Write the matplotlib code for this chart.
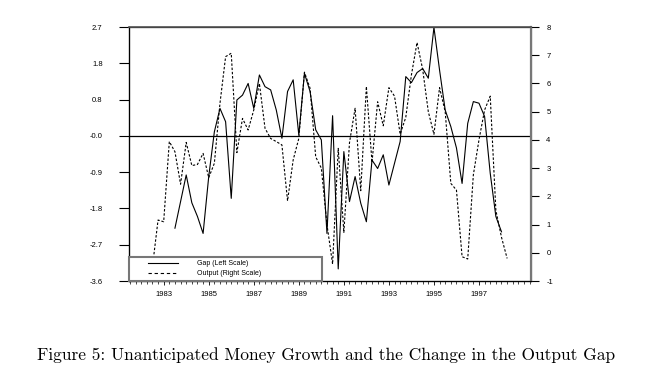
import numpy as np
import matplotlib
matplotlib.use("Agg")
import matplotlib.pyplot as plt
from matplotlib.ticker import MultipleLocator
from matplotlib.legend_handler import HandlerLine2D

# quarterly series
gap_start = 1983.5      # first quarter shown for the gap series
gap = [-2.29, -1.63, -0.97, -1.66, -2.0, -2.42, -1.01, 0.1, 0.68, 0.35,
       -1.55, 0.89, 1.01, 1.3, 0.68, 1.51, 1.22, 1.14, 0.64, -0.06,
       1.1, 1.39, 0.02, 1.55, 1.1, 0.15, -0.1, -2.42, 0.5, -3.3,
       -0.39, -1.63, -1.01, -1.67, -2.13, -0.6, -0.81, -0.47, -1.22, -0.68,
       -0.14, 1.47, 1.32, 1.57, 1.67, 1.43, 2.69, 1.63, 0.64, 0.23,
       -0.3, -1.18, 0.31, 0.85, 0.81, 0.48, -0.93, -2.0, -2.38]

output_start = 1982.5   # first quarter shown for the output series
output = [-0.5, 1.16, 1.1, 3.94, 3.58, 2.43, 3.91, 3.09, 3.13, 3.52,
          2.66, 3.17, 5.3, 6.95, 7.07, 3.55, 4.76, 4.35, 5.06, 6.0,
          4.41, 4.05, 3.94, 3.82, 1.84, 3.29, 4.05, 6.4, 5.83, 3.4,
          3.0, 1.0, -0.4, 3.7, 0.72, 3.9, 5.12, 2.2, 5.89, 3.2,
          5.35, 4.5, 5.85, 5.55, 4.2, 4.8, 6.3, 7.45, 6.5, 5.0,
          4.2, 5.85, 5.0, 2.46, 2.22, -0.14, -0.22, 2.76, 4.0, 5.06,
          5.55, 1.5, 0.55, -0.2]

year_ticks = [1983, 1985, 1987, 1989, 1991, 1993, 1995, 1997]
left_ticks = [2.7, 1.8, 0.9, 0.0, -0.9, -1.8, -2.7, -3.6]
left_labels = ['2.7', '1.8', '0.8', '-0.0', '-0.9', '-1.8', '-2.7', '-3.6']
right_ticks = [8, 7, 6, 5, 4, 3, 2, 1, 0, -1]

caption = "Figure 5: Unanticipated Money Growth and the Change in the Output Gap"

gap_dates = gap_start + np.arange(len(gap)) / 4.0
output_dates = output_start + np.arange(len(output)) / 4.0

plt.rcParams['font.family'] = ['Liberation Sans', 'DejaVu Sans']

fig = plt.figure(figsize=(6.51, 3.76), dpi=100)
ax = fig.add_axes([129 / 651, 1 - 281 / 376, 402 / 651, 254 / 376])
ax2 = ax.twinx()

line_gap, = ax.plot(gap_dates, gap, color='black', lw=0.8, label='Gap (Left Scale)')
ax.axhline(0, color='black', lw=0.9)
line_out, = ax2.plot(output_dates, output, color='black', lw=0.8,
                     linestyle=(0, (2.2, 1.6)), label='Output (Right Scale)')

ax.set_xlim(1981.46, 1999.31)
ax.set_ylim(-3.6, 2.7)
ax2.set_ylim(-1, 8)

ax.set_xticks(year_ticks, labels=[str(y) for y in year_ticks])
ax.xaxis.set_minor_locator(MultipleLocator(0.25))
ax.set_yticks(left_ticks, labels=left_labels)
ax2.set_yticks(right_ticks, labels=[str(v) for v in right_ticks])

ax.tick_params(axis='x', which='major', length=3, width=0.6, pad=4,
               labelsize=5.5, colors='black')
ax.tick_params(axis='x', which='minor', length=2, width=0.5)
ax.tick_params(axis='y', length=7, width=0.8, pad=12, labelsize=5.5,
               colors='black')
ax2.tick_params(axis='y', length=6, width=0.8, pad=5, labelsize=5.5,
                colors='black')

for sp in ['top', 'left', 'bottom']:
    ax.spines[sp].set_linewidth(0.9)
ax2.spines['right'].set_color('#777777')
ax2.spines['right'].set_linewidth(1.6)
ax2.spines['top'].set_linewidth(1.2)
ax2.spines['top'].set_color('#555555')

hmap = {line_gap: HandlerLine2D(xpad=2.2), line_out: HandlerLine2D(xpad=2.2)}
leg = ax2.legend(handles=[line_gap, line_out], handler_map=hmap,
                 loc='lower left', bbox_to_anchor=(0, 0, 0.48, 0.094),
                 mode='expand', borderaxespad=0, fontsize=5,
                 handlelength=6.5, handletextpad=2.7, labelspacing=0.4,
                 borderpad=0.55, fancybox=False, framealpha=1)
leg.get_frame().set_edgecolor('#777777')
leg.get_frame().set_linewidth(1.5)
leg.set_zorder(10)
for h in leg.get_lines():
    h.set_linewidth(0.8)
leg.get_lines()[1].set_linestyle((0, (3, 2.5)))

fig.text(326.5 / 651, 1 - 355 / 376, caption, ha='center', va='center',
         fontsize=12.5, family=['cmr10', 'DejaVu Serif'])

fig.savefig('out.png', dpi=100)
